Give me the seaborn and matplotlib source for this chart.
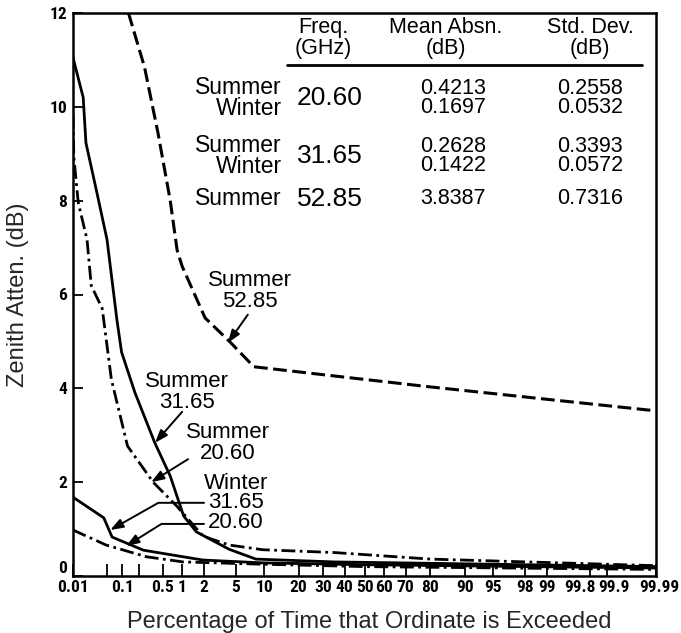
import numpy as np
import matplotlib
matplotlib.use('Agg')
import matplotlib.pyplot as plt
import matplotlib.transforms as mtransforms
from matplotlib import font_manager
import seaborn as sns
from statistics import NormalDist

# curves: percent of time exceeded (%) -> zenith attenuation (dB)
s5285_pct = [0.13, 0.25, 0.42, 0.66, 0.84, 1.0, 2.1, 4.3, 7.9, 30, 80, 99.99]
s5285_db = [12.0, 10.85, 9.45, 8.0, 6.95, 6.6, 5.5, 4.99, 4.46, 4.29, 4.03, 3.52]

s3165_pct = [0.01, 0.0166, 0.019, 0.032, 0.051, 0.079, 0.097, 0.17, 0.37, 0.66, 1.05, 1.6, 4.2, 8.3, 35, 99.99]
s3165_db = [11.05, 10.2, 9.23, 8.17, 7.17, 5.47, 4.77, 3.91, 2.85, 2.13, 1.28, 0.94, 0.57, 0.36, 0.30, 0.2]

s2060_pct = [0.01, 0.0104, 0.013, 0.02, 0.0245, 0.041, 0.062, 0.125, 0.35, 0.83, 1.97, 4.2, 9.7, 35, 80, 99.99]
s2060_db = [9.85, 8.94, 7.96, 7.17, 6.19, 5.70, 4.19, 2.77, 2.0, 1.49, 0.85, 0.66, 0.56, 0.50, 0.36, 0.22]

w3165_pct = [0.01, 0.044, 0.064, 0.24, 1.03, 1.97, 9.7, 50, 99.99]
w3165_db = [1.68, 1.24, 0.83, 0.55, 0.41, 0.34, 0.28, 0.24, 0.17]

w2060_pct = [0.01, 0.049, 0.27, 1.03, 10, 50, 99.99]
w2060_db = [0.98, 0.66, 0.41, 0.30, 0.25, 0.20, 0.14]

# axis ticks
x_ticks = [0.01, 0.1, 0.5, 1, 2, 5, 10, 20, 30, 40, 50, 60, 70, 80, 90, 95, 98, 99, 99.8, 99.9, 99.99]
x_ticklabels = ['0.01', '0.1', '0.5', '1', '2', '5', '10', '20', '30', '40', '50', '60', '70', '80',
                '90', '95', '98', '99', '99.8', '99.9', '99.99']
x_minor = [0.05, 0.2]
y_ticks = [0, 2, 4, 6, 8, 10, 12]

# statistics table
seasons = ['Summer', 'Winter', 'Summer', 'Winter', 'Summer']
freqs = ['20.60', '31.65', '52.85']
mean_absn = ['0.4213', '0.1697', '0.2628', '0.1422', '3.8387']
std_dev = ['0.2558', '0.0532', '0.3393', '0.0572', '0.7316']

sns.set_theme(style='ticks')
plt.rcParams['font.family'] = ['Liberation Sans', 'DejaVu Sans']

# tick labels are set in a narrow bold face in the original
installed = {f.name for f in font_manager.fontManager.ttflist}
tick_font, tick_size = ['Liberation Sans'], 11
for name, size in [('Liberation Sans Narrow', 13), ('Roboto Condensed', 12.5), ('Open Sans Condensed', 12.5)]:
    if name in installed:
        tick_font, tick_size = [name, 'Liberation Sans'], size
        break

W, H = 681, 633
fig = plt.figure(figsize=(W / 100, H / 100), dpi=100)
ax = fig.add_axes([73 / W, 1 - 576 / H, (656 - 73) / W, (576 - 13) / H])

nd = NormalDist()


def to_z(p):
    p = np.clip(np.asarray(p, dtype=float), 1e-7, 100 - 1e-7)
    return np.vectorize(nd.inv_cdf, otypes=[float])(p / 100.0)


def from_z(z):
    z = np.asarray(z, dtype=float)
    return np.vectorize(nd.cdf, otypes=[float])(z) * 100.0


dashed = (0, (4.5, 1.8))
dashdot = (0, (5, 1.6, 1, 1.6))
curves = [
    (s5285_pct, s5285_db, dashed, 2.2),
    (s3165_pct, s3165_db, '-', 2.0),
    (s2060_pct, s2060_db, dashdot, 2.0),
    (w3165_pct, w3165_db, '-', 2.0),
    (w2060_pct, w2060_db, dashdot, 2.0),
]
for xs, ys, ls, lw in curves:
    sns.lineplot(x=xs, y=ys, ax=ax, color='black', lw=lw, linestyle=ls,
                 sort=False, estimator=None)

ax.set_xscale('function', functions=(to_z, from_z))
ax.set_xlim(0.01, 99.99)
ax.set_ylim(0, 12)
ax.xaxis.set_major_locator(matplotlib.ticker.FixedLocator(x_ticks))
ax.xaxis.set_major_formatter(matplotlib.ticker.FixedFormatter(x_ticklabels))
ax.xaxis.set_minor_locator(matplotlib.ticker.FixedLocator(x_minor))
ax.xaxis.set_minor_formatter(matplotlib.ticker.NullFormatter())
ax.set_yticks(y_ticks)
ax.set_yticklabels([str(v) for v in y_ticks])

ax.tick_params(axis='x', which='both', direction='in', length=8.5, width=1.3, pad=3,
               labelsize=tick_size, colors='black')
ax.tick_params(axis='y', direction='in', length=7, width=1.3, pad=4, labelsize=tick_size,
               colors='black')
for lab in ax.get_xticklabels() + ax.get_yticklabels():
    lab.set_fontfamily(tick_font)
    lab.set_fontweight('bold')

# the crowded labels at the right end are spread apart, as in the original
xt = ax.xaxis.get_major_ticks()
for lbl, dx in [('99.8', -10), ('99.9', 7), ('99.99', 3)]:
    lab = xt[x_ticklabels.index(lbl)].label1
    lab.set_transform(lab.get_transform()
                      + mtransforms.ScaledTranslation(dx / 100, 0, fig.dpi_scale_trans))
ax.yaxis.get_major_ticks()[0].label1.set_verticalalignment('bottom')

for sp in ax.spines.values():
    sp.set_linewidth(1.8)
    sp.set_color('black')

ax.set_ylabel('Zenith Atten. (dB)', fontsize=17)
ax.set_xlabel('Percentage of Time that Ordinate is Exceeded', fontsize=17)
ax.yaxis.set_label_coords(-0.076, 0.5)
ax.xaxis.set_label_coords(0.508, -0.063)


def px_text(x, y, s, size, ha='center', ls=0.92):
    fig.text(x / W, 1 - y / H, s, fontsize=size, ha=ha, va='center', color='black',
             linespacing=ls)


# table of statistics
px_text(323, 38, 'Freq.\n(GHz)', 15.5, ls=0.95)
px_text(446, 38, 'Mean Absn.\n(dB)', 15.5, ls=0.95)
px_text(590, 38, 'Std. Dev.\n(dB)', 15.5, ls=0.95)
ax.axhline(10.9, xmin=(287 - 73) / 583, xmax=(642 - 73) / 583, color='black', lw=2)

blocks = [(0, 2, 98), (2, 4, 156), (4, 5, 199)]
for (a, b, yy), f in zip(blocks, freqs):
    px_text(282, yy, '\n'.join(seasons[a:b]), 16.5, ha='right')
    px_text(453, yy, '\n'.join(mean_absn[a:b]), 15.5)
    px_text(590, yy, '\n'.join(std_dev[a:b]), 15.5)
    px_text(297, yy, f, 19, ha='left')

# curve labels
px_text(250, 291, 'Summer\n52.85', 16, ls=1.0)
px_text(187, 392, 'Summer\n31.65', 16, ls=1.0)
px_text(228, 443, 'Summer\n20.60', 16, ls=1.0)
px_text(236, 503, 'Winter\n31.65\n20.60', 16, ls=0.9)

arrow = dict(arrowstyle='-|>,head_length=0.55,head_width=0.2', color='black', lw=1.4,
             shrinkA=0, shrinkB=0, mutation_scale=14)
ax.annotate('', xy=(4.07, 4.97), xytext=(6.83, 5.57), arrowprops=arrow)
ax.annotate('', xy=(0.377, 2.84), xytext=(1.0, 3.50), arrowprops=arrow)
ax.annotate('', xy=(0.324, 2.0), xytext=(1.22, 2.49), arrowprops=arrow)
ax.annotate('', xy=(0.059, 0.98), xytext=(2.03, 1.56),
            arrowprops=dict(arrow, connectionstyle='angle,angleA=0,angleB=29.5,rad=0'))
ax.annotate('', xy=(0.118, 0.64), xytext=(2.03, 1.11),
            arrowprops=dict(arrow, connectionstyle='angle,angleA=0,angleB=32,rad=0'))

fig.savefig('out.png', dpi=100)
